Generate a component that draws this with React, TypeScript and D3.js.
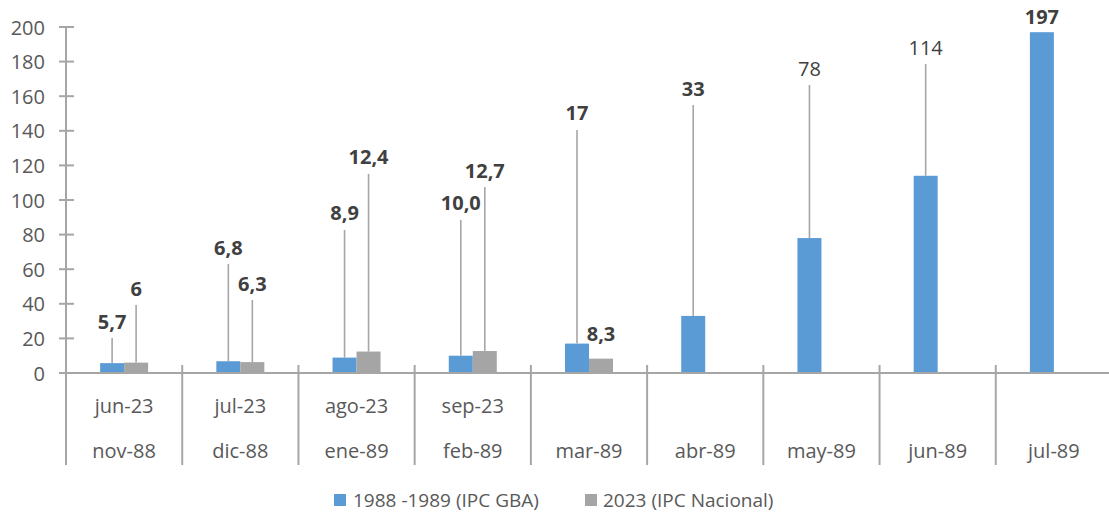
import React from 'react';
import * as d3 from 'd3';

// ---- data ----
const months2023 = ['jun-23', 'jul-23', 'ago-23', 'sep-23', '', '', '', '', ''];
const months1989 = ['nov-88', 'dic-88', 'ene-89', 'feb-89', 'mar-89', 'abr-89', 'may-89', 'jun-89', 'jul-89'];
const gbaValues = [5.7, 6.8, 8.9, 10.0, 17, 33, 78, 114, 197];
const nacionalValues: (number | null)[] = [6, 6.3, 12.4, 12.7, 8.3, null, null, null, null];
const gbaLabels = ['5,7', '6,8', '8,9', '10,0', '17', '33', '78', '114', '197'];
const nacionalLabels = ['6', '6,3', '12,4', '12,7', '8,3', '', '', '', ''];
// label anchor positions (in axis units) where the labels were dragged to
const gbaLabelAt = [30, 72.8, 92.5, 98.3, 150.3, 164.7, 176.3, 188.4, 205.8];
const nacionalLabelAt = [49.1, 52, 124.9, 117.3, 23.1, 0, 0, 0, 0];
const yTicks = [0, 20, 40, 60, 80, 100, 120, 140, 160, 180, 200];
const seriesNames = ['1988 -1989 (IPC GBA)', '2023 (IPC Nacional)'];

// ---- styles ----
const W = 1109;
const H = 512;
const BLUE = '#5b9bd5';
const GRAY = '#a5a5a5';
const AXIS = '#a6a6a6';
const TICK_TEXT = '#595959';
const LABEL_TEXT = '#404040';
const FONT = "'Open Sans', 'Liberation Sans', sans-serif";
const gbaBold = [true, true, true, true, true, true, false, false, true];

export default function App() {
  const idx = gbaValues.map((_, i) => i);
  const x0 = d3.scaleBand<number>().domain(idx).range([66, 1112]).paddingInner(0).paddingOuter(0);
  const step = x0.step();
  const barW = 24;
  const x1 = d3.scaleBand<string>().domain(['gba', 'nac']).range([step / 2 - barW, step / 2 + barW]);
  const y = d3.scaleLinear().domain([0, 200]).range([373, 27]);
  const axisBottom = 465;

  const labelNode = (cx: number, value: number, at: number, text: string, bold: boolean, key: string) => {
    const ly = y(at);
    const lineTop = ly + 17;
    const barTop = y(value);
    return (
      <g key={key}>
        {lineTop < barTop - 12 && (
          <line x1={cx} x2={cx} y1={lineTop} y2={barTop} stroke={AXIS} strokeWidth={1.6} />
        )}
        <text
          x={cx}
          y={ly}
          textAnchor="middle"
          dominantBaseline="central"
          fontFamily={FONT}
          fontSize={20}
          fontWeight={bold ? 700 : 400}
          fill={LABEL_TEXT}
        >
          {text}
        </text>
      </g>
    );
  };

  return (
    <svg width={W} height={H} style={{ position: 'absolute', left: 0, top: 0, background: '#fff' }}>
      {/* bars */}
      {idx.map((i) => {
        const bx = x0(i)!;
        const v = gbaValues[i];
        const n = nacionalValues[i];
        return (
          <g key={'b' + i}>
            <rect x={bx + x1('gba')!} y={y(v)} width={x1.bandwidth()} height={y(0) - y(v)} fill={BLUE} />
            {n !== null && (
              <rect x={bx + x1('nac')!} y={y(n)} width={x1.bandwidth()} height={y(0) - y(n)} fill={GRAY} />
            )}
          </g>
        );
      })}

      {/* leader lines + labels */}
      {idx.map((i) => {
        const bx = x0(i)!;
        const cxG = bx + x1('gba')! + x1.bandwidth() / 2;
        const cxN = bx + x1('nac')! + x1.bandwidth() / 2;
        const n = nacionalValues[i];
        return (
          <g key={'l' + i}>
            {labelNode(cxG, gbaValues[i], gbaLabelAt[i], gbaLabels[i], gbaBold[i], 'g' + i)}
            {n !== null && labelNode(cxN, n, nacionalLabelAt[i], nacionalLabels[i], true, 'n' + i)}
          </g>
        );
      })}

      {/* y axis */}
      <line x1={66} x2={66} y1={y(200)} y2={axisBottom} stroke={AXIS} strokeWidth={2} />
      {yTicks.map((t) => (
        <g key={'t' + t}>
          <line x1={59} x2={74} y1={y(t)} y2={y(t)} stroke={AXIS} strokeWidth={2} />
          <text
            x={45}
            y={y(t)}
            textAnchor="end"
            dominantBaseline="central"
            fontFamily={FONT}
            fontSize={20}
            fill={TICK_TEXT}
          >
            {t}
          </text>
        </g>
      ))}

      {/* x axis */}
      <line x1={66} x2={W} y1={y(0)} y2={y(0)} stroke={AXIS} strokeWidth={2} />
      {d3.range(1, idx.length + 1).map((k) => {
        const sx = 66 + k * step;
        return <line key={'s' + k} x1={sx} x2={sx} y1={y(0) - 8} y2={axisBottom} stroke={AXIS} strokeWidth={2} />;
      })}
      {idx.map((i) => {
        const cx = x0(i)! + step / 2;
        return (
          <g key={'c' + i}>
            {months2023[i] && (
              <text x={cx} y={405} textAnchor="middle" dominantBaseline="central" fontFamily={FONT} fontSize={20} fill={TICK_TEXT}>
                {months2023[i]}
              </text>
            )}
            <text x={cx} y={450} textAnchor="middle" dominantBaseline="central" fontFamily={FONT} fontSize={20} fill={TICK_TEXT}>
              {months1989[i]}
            </text>
          </g>
        );
      })}

      {/* legend */}
      <g>
        <rect x={334} y={494} width={12} height={12} fill={BLUE} />
        <text x={353} y={500} dominantBaseline="central" fontFamily={FONT} fontSize={19} fill={TICK_TEXT}>
          {seriesNames[0]}
        </text>
        <rect x={585} y={494} width={12} height={12} fill={GRAY} />
        <text x={603} y={500} dominantBaseline="central" fontFamily={FONT} fontSize={19} fill={TICK_TEXT}>
          {seriesNames[1]}
        </text>
      </g>
    </svg>
  );
}
